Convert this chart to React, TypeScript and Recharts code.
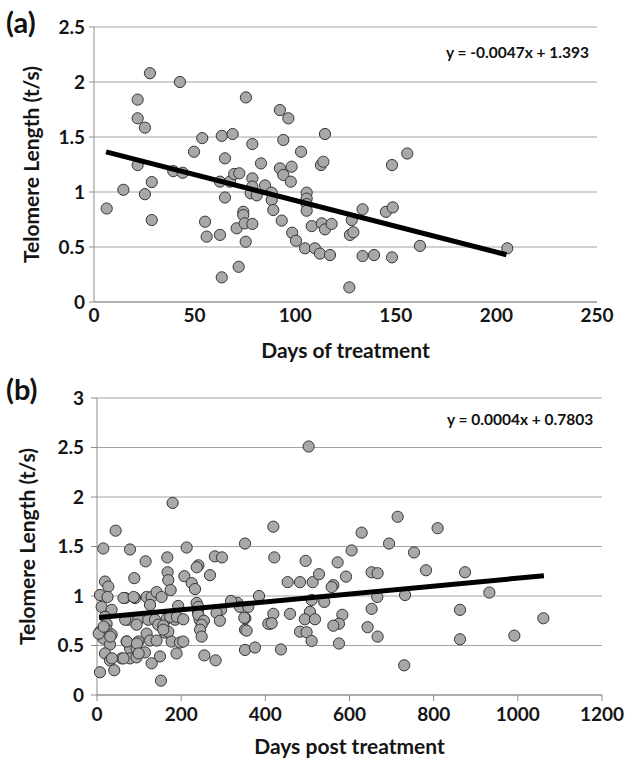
import {
  ScatterChart,
  Scatter,
  XAxis,
  YAxis,
  CartesianGrid,
  Label,
} from "recharts";

// panel (a): days of treatment vs telomere length
const daysA = [
  6.3, 14.6, 21.7, 21.7, 21.7, 27.8, 25.3, 25.3, 28.7, 28.7, 42.7, 39.4, 44.1, 49.7, 53.8,
  55.2, 56, 62.6, 63.5, 65.1, 62.6, 65.1, 63.5, 67.6, 68.9, 70.9, 71.9, 69.7, 72.2, 74.2,
  74.2, 75.5, 74.9, 75.4, 78.7, 78.7, 78.7, 78.7, 77.9, 80.9, 83, 85, 88.3, 88.3, 89.1,
  92.4, 92.4, 94.1, 94.1, 93.3, 96.6, 98.2, 97.8, 98.5, 100.4, 102.9, 104.9, 105.7, 105.7,
  105.7, 105.7, 108.2, 109.8, 112.3, 112.8, 114, 114.8, 113.2, 114.8, 117.3, 118.1, 126.9,
  127.2, 128.9, 128.1, 133.5, 133.5, 139.2, 145.1, 148.5, 148.1, 148.1, 155.7, 162, 205.4,
];
const tlA = [
  0.85, 1.02, 1.84, 1.67, 1.245, 2.08, 1.585, 0.98, 1.09, 0.745, 2.0, 1.19, 1.175, 1.366, 1.49,
  0.73, 0.594, 0.61, 1.51, 1.306, 1.094, 0.95, 0.224, 1.094, 1.527, 0.67, 0.32, 1.164, 1.17, 0.82,
  0.79, 1.86, 0.715, 0.548, 1.436, 1.124, 1.05, 0.71, 0.988, 0.97, 1.26, 1.06, 0.994, 0.927, 0.836,
  1.745, 1.215, 1.155, 1.473, 0.74, 1.67, 1.23, 1.094, 0.63, 0.557, 1.366, 0.488, 0.994, 0.94,
  0.89, 0.83, 0.69, 0.488, 0.44, 1.245, 1.275, 1.527, 0.715, 0.66, 0.427, 0.71, 0.133,
  0.61, 0.634, 0.745, 0.843, 0.418, 0.427, 0.82, 0.86, 1.245, 0.406, 1.35, 0.51, 0.488,
];

// panel (b): days post treatment vs telomere length
const daysB = [
  179.7, 44.3, 15, 78.4, 115.5, 167, 167.8, 169.4, 88.6, 19, 26.9, 175, 7, 25, 66.5,
  90.3, 117.9, 129.8, 141.6, 153.5, 126, 11, 34.7, 193, 19, 22.8, 74.4, 98.2, 122, 137.8,
  165.4, 185.3, 94, 145.7, 157.6, 7, 22.8, 34.7, 117.9, 161.6, 169.4, 15, 30.9, 70.4, 98.2,
  126, 141.6, 177.3, 197.2, 78.4, 94.1, 114, 19, 30.9, 58.5, 78.4, 94.1, 149.7, 129.8, 189,
  7, 41, 152, 4, 15.8, 31.6, 35.6, 63, 63, 67, 71, 87, 95, 99, 157.6,
  174, 190, 240, 243.8, 334, 352.4,
  213, 351.7, 280, 297, 241, 237, 207.5, 268.5, 225, 232.9, 236.7, 240.7, 318.4, 385, 339.8,
  359.6, 294.7, 284, 205, 240.7, 254, 248.6, 292, 350, 351.7, 355.5, 411, 407, 244.8, 248.6,
  205, 255, 281.8, 351.7, 375.5,
  419, 628.8, 421.3, 495.7, 571.8, 605, 453, 482.4, 512.4, 527.6, 591.7, 561.6, 557.6, 510, 540,
  419, 415, 458.6, 506, 494, 518, 583, 575, 561.6, 482.4, 498, 510, 575, 437, 502.9,
  714.4, 809.4, 694, 753.3, 652.6, 666.8, 781.8, 666, 732, 652.6, 643, 666.8, 730,
  874.5, 932.3, 862.6, 1060.6, 862.6, 991.7,
];
const tlB = [
  1.94, 1.66, 1.48, 1.47, 1.35, 1.39, 1.24, 1.16, 1.18, 1.146, 1.095, 1.06, 1.01, 0.99, 0.98,
  0.98, 0.99, 0.99, 1.04, 0.99, 0.91, 0.89, 0.86, 0.9, 0.79, 0.72, 0.76, 0.76, 0.76, 0.76,
  0.77, 0.76, 0.71, 0.71, 0.7, 0.64, 0.66, 0.61, 0.62, 0.63, 0.64, 0.57, 0.51, 0.54, 0.54,
  0.55, 0.55, 0.54, 0.53, 0.47, 0.47, 0.43, 0.42, 0.35, 0.37, 0.37, 0.38, 0.39, 0.32, 0.42,
  0.23, 0.25, 0.145, 0.62, 0.69, 0.59, 0.37, 0.37, 0.98, 0.76, 0.54, 0.99, 0.52, 0.42, 0.66,
  0.79, 0.79, 0.84, 0.76, 0.93, 0.775,
  1.49, 1.53, 1.4, 1.39, 1.31, 1.29, 1.2, 1.21, 1.13, 1.07, 0.93, 0.89, 0.95, 1.0, 0.89,
  0.89, 0.86, 0.83, 0.765, 0.81, 0.75, 0.71, 0.75, 0.78, 0.66, 0.65, 0.72, 0.72, 0.66, 0.59,
  0.54, 0.4, 0.35, 0.455, 0.48,
  1.7, 1.64, 1.39, 1.355, 1.34, 1.46, 1.14, 1.14, 1.14, 1.22, 1.196, 1.11, 1.09, 0.96, 0.94,
  0.82, 0.725, 0.82, 0.84, 0.765, 0.765, 0.81, 0.72, 0.7, 0.64, 0.634, 0.546, 0.52, 0.46, 2.51,
  1.8, 1.685, 1.53, 1.44, 1.24, 1.23, 1.26, 0.99, 1.01, 0.87, 0.685, 0.59, 0.3,
  1.24, 1.035, 0.86, 0.775, 0.563, 0.6,
];

// fitted lines as printed on the figure
const fitA = { slope: -0.0047, intercept: 1.393, from: 6, to: 205 };
const fitB = { slope: 0.0004, intercept: 0.7803, from: 5, to: 1062 };

const ticksA = [0, 50, 100, 150, 200, 250];
const yTicksA = [0, 0.5, 1, 1.5, 2, 2.5];
const ticksB = [0, 200, 400, 600, 800, 1000, 1200];
const yTicksB = [0, 0.5, 1, 1.5, 2, 2.5, 3];

const pointsA = daysA.map((x, i) => ({ x, y: tlA[i] }));
const pointsB = daysB.map((x, i) => ({ x, y: tlB[i] }));
const lineOf = (f: typeof fitA) =>
  [f.from, f.to].map((x) => ({ x, y: f.slope * x + f.intercept }));

const FONT = "Lato, 'Open Sans', sans-serif";
const tickStyle = { fill: "#151515", fontSize: 19, fontWeight: 700, fontFamily: FONT };
const titleStyle = { fill: "#151515", fontSize: 21, fontWeight: 700, fontFamily: FONT };

const Dot = (p: any) => (
  <circle cx={p.cx} cy={p.cy} r={5.6} fill="#a8a8a8" stroke="#363636" strokeWidth={1} />
);
const NoDot = () => <g />;

export default function App() {
  return (
    <div
      style={{
        position: "absolute",
        left: 0,
        top: 0,
        width: 627,
        height: 760,
        background: "#fff",
        fontFamily: FONT,
        color: "#111",
      }}
    >
      <div style={{ position: "absolute", left: 6, top: 4, fontSize: 29, fontWeight: 700 }}>(a)</div>
      <div style={{ position: "absolute", left: 446, top: 43, fontSize: 15.5, fontWeight: 700 }}>
        y = -0.0047x + 1.393
      </div>
      <ScatterChart width={627} height={372} margin={{ top: 27, right: 30, bottom: 10, left: 0 }}>
        <CartesianGrid vertical={false} stroke="#a4a4a4" />
        <XAxis
          type="number"
          dataKey="x"
          domain={[0, 250]}
          ticks={ticksA}
          height={60}
          stroke="#8c8c8c"
          tickLine={false}
          tickSize={5}
          tick={tickStyle}
        >
          <Label value="Days of treatment" position="insideBottom" offset={4} style={titleStyle} />
        </XAxis>
        <YAxis
          type="number"
          dataKey="y"
          domain={[0, 2.5]}
          ticks={yTicksA}
          width={94}
          stroke="#8c8c8c"
          tickSize={5}
          tickMargin={4}
          tick={tickStyle}
        >
          <Label
            value="Telomere Length (t/s)"
            angle={-90}
            position="insideLeft"
            offset={32}
            style={{ ...titleStyle, textAnchor: "middle" }}
          />
        </YAxis>
        <Scatter data={pointsA} shape={Dot} isAnimationActive={false} />
        <Scatter
          data={lineOf(fitA)}
          shape={NoDot}
          line={{ stroke: "#000", strokeWidth: 5 }}
          isAnimationActive={false}
        />
      </ScatterChart>

      <div style={{ position: "absolute", left: 6, top: 371, fontSize: 29, fontWeight: 700 }}>(b)</div>
      <div style={{ position: "absolute", left: 447, top: 410, fontSize: 15.5, fontWeight: 700 }}>
        y = 0.0004x + 0.7803
      </div>
      <ScatterChart width={627} height={388} margin={{ top: 26, right: 25, bottom: 5, left: 0 }}>
        <CartesianGrid vertical={false} stroke="#a4a4a4" />
        <XAxis
          type="number"
          dataKey="x"
          domain={[0, 1200]}
          ticks={ticksB}
          height={60}
          stroke="#8c8c8c"
          tickSize={6}
          tickMargin={7}
          tick={tickStyle}
        >
          <Label value="Days post treatment" position="insideBottom" offset={1} style={titleStyle} />
        </XAxis>
        <YAxis
          type="number"
          dataKey="y"
          domain={[0, 3]}
          ticks={yTicksB}
          width={97}
          stroke="#8c8c8c"
          tickSize={6}
          tickMargin={7}
          tick={tickStyle}
        >
          <Label
            value="Telomere Length (t/s)"
            angle={-90}
            position="insideLeft"
            offset={28}
            style={{ ...titleStyle, textAnchor: "middle" }}
          />
        </YAxis>
        <Scatter data={pointsB} shape={Dot} isAnimationActive={false} />
        <Scatter
          data={lineOf(fitB)}
          shape={NoDot}
          line={{ stroke: "#000", strokeWidth: 5 }}
          isAnimationActive={false}
        />
      </ScatterChart>
    </div>
  );
}
